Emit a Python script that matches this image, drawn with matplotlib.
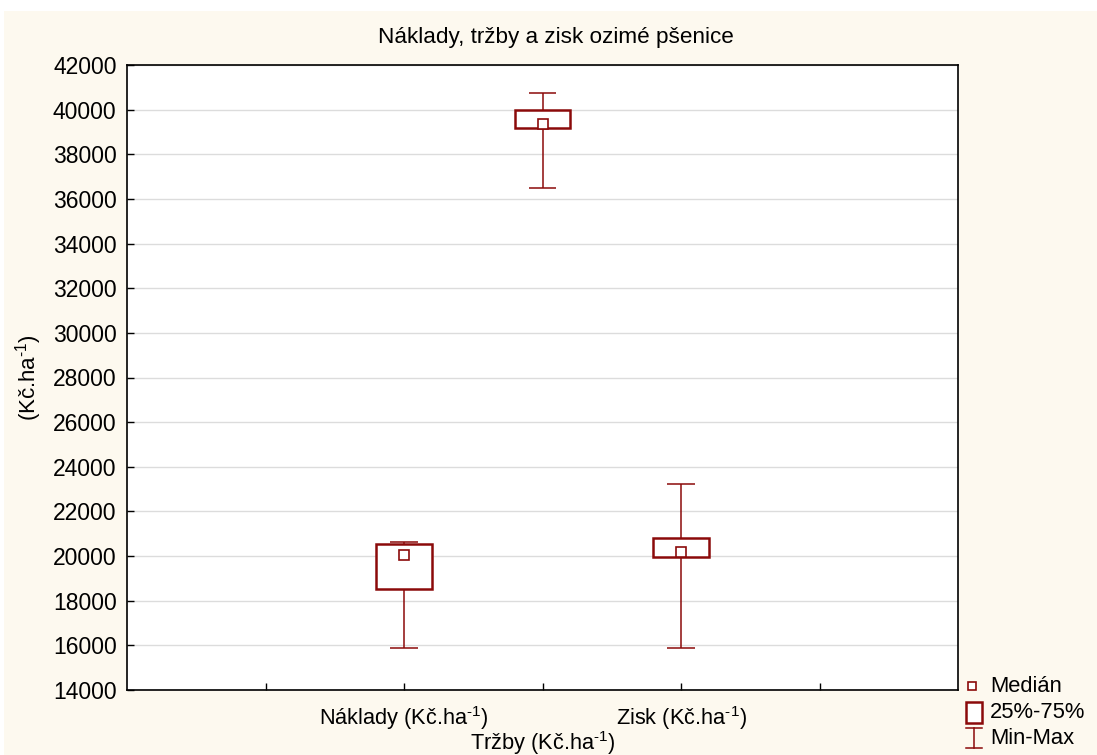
import matplotlib
matplotlib.use("Agg")
import matplotlib.pyplot as plt
from matplotlib.patches import Rectangle
from matplotlib.lines import Line2D

plt.rcParams['font.family'] = ['Liberation Sans', 'DejaVu Sans']
plt.rcParams['mathtext.fontset'] = 'custom'
plt.rcParams['mathtext.rm'] = 'Liberation Sans'
plt.rcParams['mathtext.it'] = 'Liberation Sans'
plt.rcParams['mathtext.default'] = 'regular'

# data
unit = r"(Kč.ha$^{\text{-}1}$)"
categories = ["Náklady " + unit, "Tržby " + unit, "Zisk " + unit]
median = [20050, 39340, 20170]
q1 = [18510, 39180, 19960]
q3 = [20540, 40000, 20820]
vmin = [15890, 36500, 15880]
vmax = [20620, 40730, 23230]
positions = [2, 3, 4]

W, H = 1097, 755
red = '#8b0a0a'
cream = '#fdf9ef'

fig = plt.figure(figsize=(W / 100, H / 100), dpi=100, facecolor='white')
# cream background panel (white strip at top/left)
fig.add_artist(Rectangle((4 / W, 0), 1, 1 - 11 / H, transform=fig.transFigure,
                         facecolor=cream, edgecolor='none', zorder=-10))

def px(x, y):
    return x / W, 1 - y / H

l, t = px(127, 65)
r, b = px(958, 690)
ax = fig.add_axes([l, b, r - l, t - b])
ax.set_facecolor('white')

for p, lo, hi, a, c, m in zip(positions, vmin, vmax, q1, q3, median):
    ax.vlines(p, lo, hi, color=red, lw=1.1, zorder=2)
    ax.hlines([lo, hi], p - 0.1, p + 0.1, color=red, lw=1.1, zorder=2)
    ax.add_patch(Rectangle((p - 0.2, a), 0.4, c - a, facecolor='white',
                           edgecolor=red, lw=1.8, zorder=3))
    ax.plot(p, m, marker='s', ms=7.5, mfc='white', mec=red, mew=1.2, zorder=4)

ax.set_xlim(0, 6)
ax.set_ylim(14000, 42000)
ax.set_yticks(range(14000, 42001, 2000))
ax.yaxis.grid(True, color='#dcdcdc', lw=1)
ax.set_axisbelow(True)

ax.set_xticks([2, 4])
ax.set_xticklabels([categories[0], categories[2]])
ax.set_xticks([1, 3, 5], minor=True)
ax.set_xticklabels(['', categories[1], ''], minor=True)
ax.tick_params(axis='both', which='both', direction='in', length=5, width=1,
               colors='black')
ax.tick_params(axis='x', which='both', labelsize=15.7)
ax.tick_params(axis='x', which='major', pad=10)
ax.tick_params(axis='x', which='minor', pad=28)
ax.tick_params(axis='y', pad=7.5, labelsize=16.5)
for s in ax.spines.values():
    s.set_linewidth(1.2)

ax.set_ylabel(unit, fontsize=16, labelpad=6)

fig.text(*px(556, 38), "Náklady, tržby a zisk ozimé pšenice", ha='center',
         va='center', fontsize=16.2)

# legend drawn by hand
fig.add_artist(Line2D([px(972, 686)[0]], [px(972, 686)[1]], marker='s', ms=6,
                      mfc='white', mec=red, mew=1.2, transform=fig.transFigure))
x0, y0 = px(966, 723)
x1, y1 = px(982, 702)
fig.add_artist(Rectangle((x0, y0), x1 - x0, y1 - y0, facecolor='white',
                         edgecolor=red, lw=1.8, transform=fig.transFigure))
xa, ya = px(974, 728)
xb, yb = px(974, 748)
fig.add_artist(Line2D([xa, xb], [ya, yb], color=red, lw=1.1, transform=fig.transFigure))
for yy in (728, 748):
    xa, ya = px(966, yy)
    xb, _ = px(982, yy)
    fig.add_artist(Line2D([xa, xb], [ya, ya], color=red, lw=1.1, transform=fig.transFigure))
for label, yy in (("Medián", 687), ("25%-75%", 712), ("Min-Max", 738)):
    fig.text(*px(990, yy), label, ha='left', va='center', fontsize=15.8)

fig.savefig("out.png", dpi=100, facecolor=fig.get_facecolor())
